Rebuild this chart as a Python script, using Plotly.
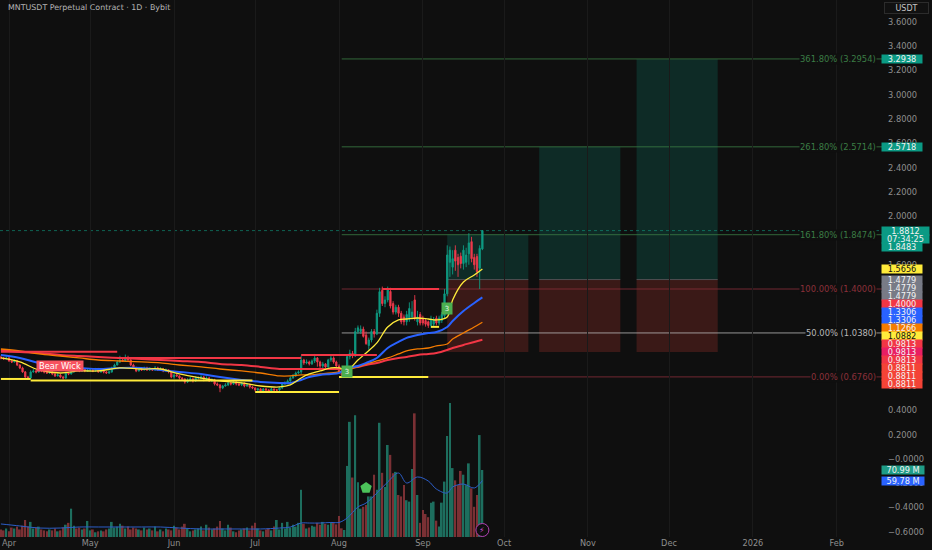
import pandas as pd
import plotly.graph_objects as go

# ---------- candles ----------
closes = [
    .832,.824,.832,.807,.799,.807,.774,.750,.717,.675,
    .667,.717,.725,.717,.733,.725,.717,.708,.717,.700,
    .684,.692,.675,.667,.708,.700,.717,.741,.733,.725,
    .741,.725,.733,.733,.725,.741,.717,.725,.717,.708,
    .717,.750,.774,.799,.815,.807,.832,.815,.774,.750,
    .725,.741,.733,.750,.733,.741,.733,.750,.733,.741,
    .725,.733,.717,.675,.692,.684,.667,.659,.634,.651,
    .659,.643,.667,.667,.675,.659,.667,.643,.651,.618,
    .610,.585,.601,.610,.626,.618,.634,.618,.610,.626,
    .601,.610,.593,.585,.568,.577,.560,.577,.568,.560,
    .577,.568,.568,.585,.618,.626,.643,.667,.684,.708,
    .717,.815,.791,.799,.783,.807,.832,.799,.766,.783,
    .758,.815,.832,
    .799,.766,.717,.692,.717,
    .843,.870,.850,1.049,1.080,1.070,1.010,.950,.980,1.050,
    1.030,1.200,1.378,1.280,1.310,1.392,1.260,1.210,1.250,1.200,
    1.130,1.130,1.190,1.240,1.210,1.160,1.170,1.120,1.120,1.110,
    1.100,1.150,1.150,1.120,1.160,1.190,1.360,1.680,1.720,1.650,
    1.630,1.600,1.610,1.720,1.680,1.780,1.650,1.600,1.543,1.735,1.8812]
opens = [
    .840,.832,.824,.832,.807,.799,.807,.774,.750,.717,
    .675,.667,.717,.725,.717,.733,.725,.717,.708,.717,
    .700,.684,.692,.675,.667,.708,.700,.717,.741,.733,
    .725,.741,.725,.733,.733,.725,.741,.717,.725,.717,
    .708,.717,.750,.774,.799,.815,.807,.832,.815,.774,
    .750,.725,.741,.733,.750,.733,.741,.733,.750,.733,
    .741,.725,.733,.717,.675,.692,.684,.667,.659,.634,
    .651,.659,.643,.667,.667,.675,.659,.667,.643,.651,
    .618,.610,.585,.601,.610,.626,.618,.634,.618,.610,
    .626,.601,.610,.593,.585,.568,.577,.560,.577,.568,
    .560,.577,.568,.568,.585,.618,.626,.643,.667,.684,
    .708,.717,.815,.791,.799,.783,.807,.832,.799,.766,
    .783,.758,.815,
    .832,.799,.766,.717,.692,
    .717,.843,.870,.850,1.049,1.050,1.070,1.020,.935,.980,
    1.050,1.030,1.200,1.390,1.280,1.310,1.380,1.280,1.210,1.250,
    1.200,1.170,1.130,1.150,1.170,1.310,1.130,1.190,1.160,1.140,
    1.130,1.100,1.110,1.160,1.120,1.140,1.180,1.360,1.620,1.580,
    1.720,1.660,1.670,1.610,1.620,1.690,1.790,1.660,1.667,1.571,1.730]
highs = [
    .85,.84,.845,.84,.82,.82,.815,.78,.76,.725,
    .685,.73,.74,.735,.745,.74,.73,.725,.73,.725,
    .71,.705,.70,.685,.72,.715,.73,.79,.755,.745,
    .75,.75,.745,.74,.745,.75,.75,.735,.735,.725,
    .73,.76,.785,.815,.85,.83,.86,.85,.825,.785,
    .76,.755,.75,.76,.76,.755,.75,.765,.76,.755,
    .75,.745,.74,.725,.705,.70,.69,.675,.665,.665,
    .675,.67,.68,.68,.69,.685,.68,.675,.665,.66,
    .63,.615,.61,.625,.64,.635,.645,.64,.63,.635,
    .63,.62,.62,.60,.59,.585,.585,.585,.585,.575,
    .59,.58,.575,.595,.63,.64,.655,.68,.70,.72,
    .73,.85,.825,.82,.81,.82,.865,.84,.81,.80,
    .79,.825,.85,
    .845,.81,.78,.73,.73,
    .86,.90,.89,1.08,1.10,1.10,1.09,1.05,1.00,1.07,
    1.07,1.23,1.41,1.42,1.34,1.42,1.41,1.30,1.27,1.27,
    1.22,1.19,1.22,1.29,1.30,1.35,1.22,1.21,1.18,1.16,
    1.14,1.18,1.17,1.18,1.18,1.21,1.40,1.76,1.75,1.72,
    1.76,1.69,1.70,1.76,1.74,1.86,1.83,1.69,1.69,1.76,1.885]
lows = [
    .82,.815,.82,.80,.79,.795,.765,.74,.71,.665,
    .655,.66,.71,.705,.71,.715,.705,.70,.70,.69,
    .675,.68,.665,.655,.66,.69,.695,.71,.725,.715,
    .72,.715,.72,.725,.715,.72,.71,.71,.705,.70,
    .70,.71,.745,.77,.79,.80,.80,.805,.765,.74,
    .715,.72,.725,.73,.725,.725,.725,.73,.725,.725,
    .715,.72,.705,.665,.66,.675,.655,.645,.62,.625,
    .64,.63,.635,.655,.66,.64,.65,.635,.635,.605,
    .60,.55,.575,.595,.60,.605,.61,.605,.60,.60,
    .59,.595,.58,.575,.555,.56,.55,.55,.555,.55,
    .555,.555,.555,.56,.575,.61,.615,.635,.66,.675,
    .70,.70,.775,.78,.77,.775,.79,.76,.75,.745,
    .75,.75,.80,
    .785,.755,.70,.68,.68,
    .70,.82,.83,.84,1.03,1.03,1.00,.94,.90,.96,
    1.00,1.02,1.17,1.26,1.25,1.29,1.24,1.19,1.19,1.17,
    1.11,1.10,1.10,1.13,1.15,1.14,1.10,1.10,1.10,1.09,
    1.08,1.08,1.09,1.10,1.10,1.12,1.16,1.34,1.50,1.52,
    1.55,1.50,1.57,1.56,1.58,1.60,1.62,1.56,1.50,1.40,1.72]
volumes = [
    8,7,9,6,10,9,11,8,12,18,
    11,16,9,10,11,8,7,6,8,7,
    9,6,7,10,13,15,30,12,9,10,
    8,9,17,7,8,5,6,7,6,8,
    9,16,10,11,14,12,9,11,8,10,
    9,8,7,10,8,9,7,11,6,8,
    6,9,8,7,12,10,8,11,14,9,
    6,7,8,9,11,7,13,10,8,9,
    11,17,9,7,13,10,6,5,7,8,
    9,10,7,12,15,9,7,6,8,9,
    7,11,18,8,15,9,16,10,13,11,
    15,50,14,9,10,12,11,15,13,16,14,13,15,
    15.2,13.4,22.3,9.2,7.4,75.3,122,63,129,58,
    30,32,34,43,43,66,50,121,68,53,
    97.5,87,67.5,69,44.5,43,55,39,37.5,72,
    131,44.5,15,28.6,24.4,21,36.4,37.5,17.3,11,
    36.4,58.7,107,142,73,60,55,70,66,55,
    78,51.6,32,44.5,108,70.99]
last_day = "2025-09-23"

# ---------- moving averages ----------
ma_dates = ["2025-03-29","2025-04-05","2025-04-12","2025-04-20","2025-04-27","2025-05-04",
            "2025-05-12","2025-05-20","2025-05-27","2025-06-03","2025-06-11","2025-06-18",
            "2025-06-26","2025-07-03","2025-07-10","2025-07-14","2025-07-18","2025-07-21",
            "2025-07-25","2025-07-29","2025-08-01","2025-08-04","2025-08-08","2025-08-11",
            "2025-08-15","2025-08-19","2025-08-23","2025-08-26","2025-08-30","2025-09-03",
            "2025-09-06","2025-09-10","2025-09-12","2025-09-16","2025-09-20","2025-09-23"]
ma_yellow = [.832,.799,.733,.708,.725,.725,.750,.741,.741,.700,.667,.643,.626,.601,.593,.610,.667,.700,
             .725,.750,.750,.733,.815,.873,.956,1.087,1.145,1.153,1.161,1.153,1.145,1.170,1.310,1.458,1.516,1.5656]
ma_blue = [.857,.832,.791,.758,.750,.741,.750,.750,.733,.717,.700,.675,.651,.634,.626,.626,.651,.675,
           .692,.700,.708,.750,.766,.791,.832,.914,.964,.997,1.021,1.038,1.046,1.087,1.137,1.219,1.285,1.3306]
ma_orange = [.906,.890,.865,.848,.832,.815,.807,.799,.791,.774,.758,.741,.725,.708,.684,.684,.692,.692,
             .700,.708,.717,.733,.758,.783,.807,.832,.865,.890,.906,.914,.931,.947,.988,1.038,1.087,1.1266]
ma_red = [.898,.881,.873,.857,.848,.840,.832,.824,.815,.807,.799,.783,.774,.758,.741,.741,.741,.741,
          .741,.741,.741,.750,.758,.774,.791,.815,.832,.840,.857,.865,.873,.898,.914,.939,.964,.9813]
ma_volume = [13.8,11.7,9.5,9.5,10.6,10.6,10.6,10.6,10.6,9.5,8.5,8.5,8.5,8.5,9.5,10.6,14.8,14.8,
             14.8,15.4,15.4,20.1,31.8,36,46.6,58.3,67.8,57.2,63.6,59.3,50.8,46.6,53,56.1,51.9,59.78]

# ---------- levels ----------
red_levels = [.884,.832,.857,1.400]
red_starts = ["2025-03-29","2025-05-11","2025-07-18","2025-08-17"]
red_ends = ["2025-05-11","2025-07-18","2025-08-15","2025-09-07"]
yellow_levels = [.659,.647,.552,.675,1.0882]
yellow_starts = ["2025-03-29","2025-04-09","2025-07-01","2025-08-01","2025-09-04"]
yellow_ends = ["2025-04-09","2025-06-30","2025-08-01","2025-09-03","2025-09-07"]

fib_values = [3.2954,2.5714,1.8474,1.4000,1.0380,.6760]
fib_texts = ["361.80% (3.2954)","261.80% (2.5714)","161.80% (1.8474)","100.00% (1.4000)","50.00% (1.0380)","0.00% (0.6760)"]
fib_colors = ["#3b7d45","#3b7d45","#3b7d45","#8c2f3a","#b8b8b8","#8c2f3a"]
fib_start = "2025-08-02"

box_starts = ["2025-09-10","2025-10-14","2025-11-19"]
box_ends = ["2025-10-10","2025-11-13","2025-12-19"]
box_targets = [1.8483,2.5718,3.2938]
box_entry = 1.4779
box_stop = .8811

# ---------- axes text ----------
price_ticks = [3.6,3.4,3.2,3.0,2.8,2.6,2.4,2.2,2.0,1.8,1.6,1.4,1.2,1.0,.8,.6,.4,.2,0,-.2,-.4,-.6]
price_tick_labels = ["3.6000","3.4000","3.2000","3.0000","2.8000","2.6000","2.4000","2.2000","2.0000",
                     "1.8000","1.6000","1.4000","1.2000","1.0000","0.8000","0.6000","0.4000","0.2000",
                     "\u22120.0000","\u22120.2000","\u22120.4000","\u22120.6000"]
month_ticks = ["2025-04-01","2025-05-01","2025-06-01","2025-07-01","2025-08-01","2025-09-01",
               "2025-10-01","2025-11-01","2025-12-01","2026-01-01","2026-02-01"]
month_labels = ["Apr","May","Jun","Jul","Aug","Sep","Oct","Nov","Dec","2026","Feb"]

tag_values = [3.2938,2.5718,1.8812,1.8812,1.8483,1.5656,1.4779,1.4779,1.4779,1.4000,1.3306,1.3306,1.1266,1.0882,
              .9813,.9813,.9813,.8811,.8811,.8811]
tag_texts = ["3.2938","2.5718","1.8812","07:34:25","1.8483","1.5656","1.4779","1.4779","1.4779","1.4000","1.3306","1.3306",
             "1.1266","1.0882","0.9813","0.9813","0.9813","0.8811","0.8811","0.8811"]
tag_colors = ["#0b9a84","#0b9a84","#0b9a84","#0b9a84","#0b9a84","#ffeb3b","#787b86","#787b86","#787b86","#f23645",
              "#2962ff","#2962ff","#f57c00","#ffeb3b","#f23645","#e91e63","#f23645","#f44336","#f44336","#f44336"]
volume_tags = [70.99,59.78]
volume_tag_texts = ["70.99 M","59.78 M"]
volume_tag_colors = ["#1f9c86","#2962ff"]

FONT = "DejaVu Sans"
BG = "#0f0f0f"
Y_MIN, Y_MAX = -0.643, 3.781
PLOT_H = 537
PX = PLOT_H / (Y_MAX - Y_MIN)
VOL_MAX = 568.9

dates = pd.date_range(end=last_day, periods=len(closes))
ma_x = pd.to_datetime(ma_dates)
X_RANGE = ["2025-03-28 16:00", "2026-02-18 02:30"]

fig = go.Figure()

vol_colors = ["#1d6e5e" if c >= o else "#7a3034" for o, c in zip(opens, closes)]
fig.add_bar(x=dates, y=volumes, marker=dict(color=vol_colors, line_width=0), yaxis="y2", width=86400000*0.65)
fig.add_scatter(x=ma_x, y=ma_volume, mode="lines", line=dict(color="#2c5ec8", width=1, shape="spline"), yaxis="y2")

fig.add_candlestick(x=dates, open=opens, high=highs, low=lows, close=closes, whiskerwidth=0,
                    increasing=dict(line=dict(color="#0f9b82", width=0.9), fillcolor="#0f9b82"),
                    decreasing=dict(line=dict(color="#ee3a4c", width=0.9), fillcolor="#ee3a4c"))

for vals, col, w in [(ma_red, "#f23645", 2), (ma_orange, "#f57c00", 1.3), (ma_blue, "#2962ff", 2), (ma_yellow, "#ffeb3b", 1.3)]:
    fig.add_scatter(x=ma_x, y=vals, mode="lines", line=dict(color=col, width=w, shape="spline"))

for lv, a, b in zip(red_levels, red_starts, red_ends):
    fig.add_scatter(x=[a, b], y=[lv, lv], mode="lines", line=dict(color="#f23645", width=2))
for lv, a, b in zip(yellow_levels, yellow_starts, yellow_ends):
    fig.add_scatter(x=[a, b], y=[lv, lv], mode="lines", line=dict(color="#ffeb3b", width=2))

fig.add_scatter(x=["2025-08-11"], y=[52], yaxis="y2", mode="markers",
                marker=dict(symbol="pentagon", size=12, color="#4cc35a"))
fig.add_scatter(x=[last_day], y=[7.4], yaxis="y2", mode="markers",
                marker=dict(symbol="circle", size=13, color=BG, line=dict(color="#b13fb1", width=1)))

shapes = []
for a, b, t in zip(box_starts, box_ends, box_targets):
    shapes.append(dict(type="rect", xref="x", yref="y", x0=a, x1=b, y0=box_entry, y1=t,
                       fillcolor="rgba(8,153,129,0.2)", line_width=0, layer="below"))
    shapes.append(dict(type="rect", xref="x", yref="y", x0=a, x1=b, y0=box_stop, y1=box_entry,
                       fillcolor="rgba(205,60,50,0.23)", line_width=0, layer="below"))
    shapes.append(dict(type="line", xref="x", yref="y", x0=a, x1=b, y0=box_entry, y1=box_entry,
                       line=dict(color="rgba(120,123,134,0.5)", width=1), layer="below"))
for v, c in zip(fib_values, fib_colors):
    shapes.append(dict(type="line", xref="x", yref="y", x0=fib_start, x1=X_RANGE[1], y0=v, y1=v,
                       line=dict(color=c, width=0.8), layer="below"))
shapes.append(dict(type="line", xref="x", yref="y", x0=X_RANGE[0], x1=X_RANGE[1], y0=closes[-1], y1=closes[-1],
                   line=dict(color="rgba(15,155,130,0.6)", width=1, dash="dot"), layer="below"))

ann = []
for v, t, c in zip(fib_values, fib_texts, fib_colors):
    ann.append(dict(xref="paper", yref="y", x=1, y=v, xshift=-6, xanchor="right", yanchor="middle", text=t,
                    showarrow=False, bgcolor=BG, font=dict(family=FONT, size=8.4, color=c), borderpad=0))

top_prev = -1e9
for v, t, c in zip(tag_values, tag_texts, tag_colors):
    natural = (Y_MAX - v) * PX
    top = max(natural - 4, top_prev)
    center = top + 4
    top_prev = top + 8
    dark = c == "#ffeb3b"
    ann.append(dict(xref="paper", yref="y", x=1, y=v, xshift=-2, yshift=natural - center, xanchor="left", yanchor="middle",
                    text=t, showarrow=False, bgcolor=c, width=47 if t in ("1.8812", "07:34:25") else 40, height=8, borderpad=0,
                    align="center", font=dict(family=FONT, size=8.2, color="#111111" if dark else "#f2f2f2")))

for v, t, c in zip(volume_tags, volume_tag_texts, volume_tag_colors):
    ann.append(dict(xref="paper", yref="y2", x=1, y=v, xshift=-2, xanchor="left", yanchor="middle", text=t,
                    showarrow=False, bgcolor=c, width=42, height=8, borderpad=0,
                    font=dict(family=FONT, size=8.2, color="#f2f2f2")))

for d, v in [("2025-08-04", .717), ("2025-09-10", 1.236)]:
    ann.append(dict(xref="x", yref="y", x=d, y=v, text="3", showarrow=False, bgcolor="#4caf50", width=10, height=11,
                    borderpad=0, font=dict(family=FONT, size=7, color="#e8f5e9")))
ann.append(dict(xref="x", yref="y", x="2025-04-20", y=.762, text="Bear Wick", showarrow=False, bgcolor="#f7525f",
                width=46, height=10, borderpad=0, font=dict(family=FONT, size=8.3, color="#ffffff")))
ann.append(dict(xref="x", yref="y2", x=last_day, y=7.4, text="\u26a1", showarrow=False,
                font=dict(family=FONT, size=8, color="#d24bd2")))
ann.append(dict(xref="paper", yref="paper", x=6 / 883, y=(PLOT_H - 8) / PLOT_H, xanchor="left", yanchor="middle",
                text="MNTUSDT Perpetual Contract \u00b7 1D \u00b7 Bybit", showarrow=False,
                font=dict(family=FONT, size=7.9, color="#b5b5b5")))
ann.append(dict(xref="paper", yref="paper", x=1, xshift=1, y=(PLOT_H - 8.5) / PLOT_H, xanchor="left", yanchor="middle",
                text="USDT", showarrow=False, bgcolor="#111111", bordercolor="#2c2c2c", borderwidth=1,
                width=43, height=10, borderpad=0, font=dict(family=FONT, size=8, color="#c4c4c4")))

fig.update_layout(
    width=932, height=550, autosize=False,
    margin=dict(l=0, r=49, t=0, b=13, pad=0),
    paper_bgcolor=BG, plot_bgcolor=BG, showlegend=False, hovermode=False,
    barmode="overlay", shapes=shapes, annotations=ann,
    xaxis=dict(type="date", range=X_RANGE, rangeslider=dict(visible=False), showgrid=True, gridcolor="#1a1a1a",
               gridwidth=1, tickmode="array", tickvals=month_ticks, ticktext=month_labels, ticks="", zeroline=False,
               showline=False, tickfont=dict(family=FONT, size=8.2, color="#8e8e8e")),
    yaxis=dict(range=[Y_MIN, Y_MAX], side="right", showgrid=False, zeroline=False, showline=False, ticks="",
               tickmode="array", tickvals=price_ticks, ticktext=price_tick_labels, ticklabelstandoff=4,
               tickfont=dict(family=FONT, size=8.3, color="#8e8e8e")),
    yaxis2=dict(range=[0, VOL_MAX], overlaying="y", side="right", visible=False),
)

fig.write_html("out.html", config={"displayModeBar": False},
               post_script="document.body.style.margin='0';document.body.style.background='#0f0f0f';document.documentElement.style.overflow='hidden';")
